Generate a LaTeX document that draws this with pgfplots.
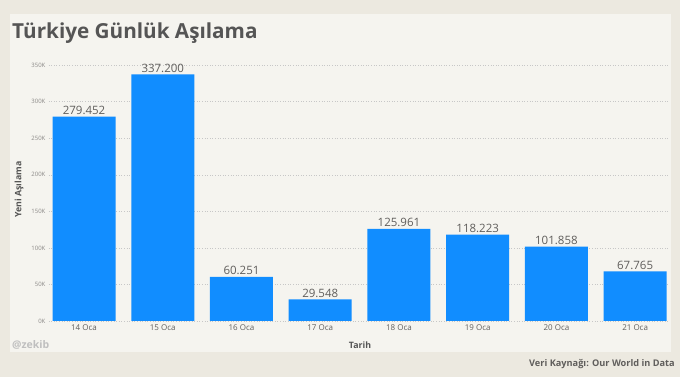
\documentclass[border=0pt]{standalone}
\usepackage{pgfplots}
\pgfplotsset{compat=1.18}
\usepackage{fontspec}
\setmainfont{Open Sans}
\definecolor{outerbg}{HTML}{ECE9E0}
\definecolor{panel}{HTML}{F5F4EF}
\definecolor{barblue}{HTML}{118DFF}
\definecolor{titlec}{HTML}{555555}
\definecolor{txt}{HTML}{605E5C}
\definecolor{tickc}{HTML}{8A8886}
\begin{document}
\begin{tikzpicture}[x=1pt,y=1pt]
\useasboundingbox (0,0) rectangle (680,377);
\fill[outerbg] (0,0) rectangle (680,377);
\fill[panel] (10,25) rectangle (671,363);
\node[anchor=base west, font=\fontsize{20.7}{24}\selectfont\bfseries, text=titlec, inner sep=0] at (12,338) {Türkiye Günlük Aşılama};
\begin{axis}[
  at={(48.6pt,56pt)}, anchor=south west, scale only axis,
  width=619.6pt, height=263.2pt,
  xmin=-0.45, xmax=7.42, ymin=0, ymax=360,
  axis line style={draw=none}, major tick style={draw=none},
  ymajorgrids, grid style={black!22, dash pattern=on 0.8pt off 1.8pt},
  ytick={0,50,...,350},
  yticklabel={\pgfmathprintnumber{\tick}K},
  /pgf/number format/assume math mode=true,
  yticklabel style={font=\fontsize{6}{7}\selectfont, text=tickc, anchor=east, inner sep=0pt, xshift=-3pt},
  xtick={0,...,7},
  xticklabels={14 Oca,15 Oca,16 Oca,17 Oca,18 Oca,19 Oca,20 Oca,21 Oca},
  xticklabel style={font=\fontsize{8}{9}\selectfont, text=txt, anchor=north, inner sep=0pt, yshift=-4pt},
  xlabel={Tarih},
  xlabel style={at={(axis description cs:0.5026,-0.0912)}, anchor=center, font=\fontsize{8.8}{10}\selectfont\bfseries, text=titlec},
  ylabel={Yeni Aşılama},
  ylabel style={at={(axis description cs:-0.0478,0.5)}, anchor=center, font=\fontsize{8.8}{10}\selectfont\bfseries, text=titlec},
  point meta=explicit symbolic,
  nodes near coords,
  nodes near coords style={font=\fontsize{11.5}{13}\selectfont, text=txt, anchor=south, inner sep=2pt},
]
\addplot[ybar, fill=barblue, draw=none, bar width=0.8] table[x=x, y=y, meta=l] {
x y l
0 279.452 279.452
1 337.200 337.200
2 60.251 60.251
3 29.548 29.548
4 125.961 125.961
5 118.223 118.223
6 101.858 101.858
7 67.765 67.765
};
\end{axis}
\node[anchor=west, font=\fontsize{10.5}{12}\selectfont\bfseries, text=black!25, inner sep=0] at (12,32) {@zekib};
\node[anchor=east, font=\fontsize{9.2}{11}\selectfont\bfseries, text=txt, inner sep=0] at (675,13) {Veri Kaynağı: Our World in Data};
\end{tikzpicture}
\end{document}
